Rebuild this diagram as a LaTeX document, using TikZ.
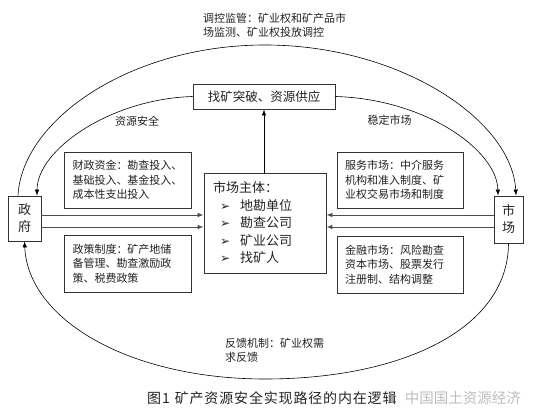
\documentclass[tikz,border=0pt]{standalone}
\usepackage{fontspec}
\setmainfont{Noto Sans CJK SC}
\newfontfamily\dejavu{DejaVu Sans}
\usetikzlibrary{arrows.meta,calc}
\definecolor{ink}{HTML}{222222}
\definecolor{wmark}{HTML}{BDBDBD}
\newcommand{\mybul}{\hspace*{7pt}\makebox[20pt][l]{\dejavu\fontsize{12}{12}\selectfont ➢}}
\begin{document}
\begin{tikzpicture}[x=1pt,y=1pt,
 bx/.style={draw=black!80,line width=0.8pt,inner sep=0pt,text=ink},
 side/.style={bx,minimum width=127pt,minimum height=56pt,text width=110pt,align=left,font=\fontsize{11}{14.5}\selectfont},
 lbl/.style={text=ink,inner sep=0pt,font=\fontsize{11}{14}\selectfont,align=left},
 arc/.style={line width=0.6pt,-{Latex[length=6pt,width=4.5pt]}},
 harr/.style={line width=0.9pt,draw=black!70,-{Latex[length=6pt,width=4.5pt]}}]
\useasboundingbox (0,0) rectangle (539,-419);

% boxes
\node[bx,minimum width=33pt,minimum height=45pt,align=center,font=\fontsize{13}{17}\selectfont] (gov) at (24.5,-218.5) {政\\府};
\node[bx,minimum width=29pt,minimum height=47pt,align=center,font=\fontsize{13}{17}\selectfont] (mkt) at (508.5,-219.5) {市\\场};
\node[bx,minimum width=142pt,minimum height=25pt,font=\fontsize{12.5}{14}\selectfont] (supply) at (264,-96.5) {找矿突破、资源供应};
\node[bx,minimum width=122pt,minimum height=100pt,text width=104pt,align=left,font=\fontsize{13}{17.5}\selectfont] (main) at (265,-223)
 {市场主体：\\ \mybul 地勘单位\\ \mybul 勘查公司\\ \mybul 矿业公司\\ \mybul 找矿人};
\node[side] (fin) at (127.5,-180) {财政资金：勘查投入、\\基础投入、基金投入、\\成本性支出投入};
\node[side,minimum height=57pt] (pol) at (127.5,-263.5) {政策制度：矿产地储\\备管理、勘查激励政\\策、税费政策};
\node[side,minimum width=126pt] (svc) at (400,-180) {服务市场：中介服务\\机构和准入制度、矿\\业权交易市场和制度};
\node[side,minimum width=126pt,minimum height=57pt] (mon) at (400,-264.5) {金融市场：风险勘查\\资本市场、股票发行\\注册制、结构调整};

% labels
\node[lbl,anchor=west] (ctl) at (203,-25) {调控监管：矿业权和矿产品市\\场监测、矿业权投放调控};
\node[lbl] (safe) at (137,-121) {资源安全};
\node[lbl] (stab) at (389.5,-120) {稳定市场};
\node[lbl,anchor=west] (fb) at (225,-350.5) {反馈机制：矿业权需\\求反馈};

% arcs
\coordinate (topc) at (265,-45);
\coordinate (botc) at (265,-379);
\draw[arc] ([xshift=-6.5pt]gov.north) .. controls (22,-120) and (130,-45) .. (topc)
  .. controls (400,-45) and (512,-120) .. ([xshift=7.5pt]mkt.north);
\draw[arc] (supply.west) .. controls (110,-99) and (37,-150) .. ([xshift=12.5pt]gov.north);
\draw[arc] (supply.east) .. controls (425,-99) and (497,-150) .. ([xshift=-10.5pt]mkt.north);
\draw[arc] (mkt.south) .. controls (508,-330) and (400,-379) .. (botc)
  .. controls (130,-379) and (28,-320) .. (gov.south);

% straight arrows
\draw[arc,line width=0.7pt] (main.north -| supply.south) -- (supply.south);
\coordinate (ya) at (0,-215);
\coordinate (yb) at (0,-227);
\draw[harr] (gov.east |- ya) -- (main.west |- ya);
\draw[harr] (gov.east |- yb) -- (main.west |- yb);
\draw[harr] (mkt.west |- ya) -- (main.east |- ya);
\draw[harr] (mkt.west |- yb) -- (main.east |- yb);

% caption and watermark
\node[text=wmark,font=\fontsize{14.5}{14.5}\selectfont,anchor=east,inner sep=0pt] (wm) at (521,-398) {中国国土资源经济};
\node[text=ink,anchor=west,inner sep=0pt,font=\fontsize{14}{14}\selectfont\addfontfeature{LetterSpace=6}] (cap) at (147,-398) {图1\hspace{5pt}矿产资源安全实现路径的内在逻辑};
\end{tikzpicture}
\end{document}
